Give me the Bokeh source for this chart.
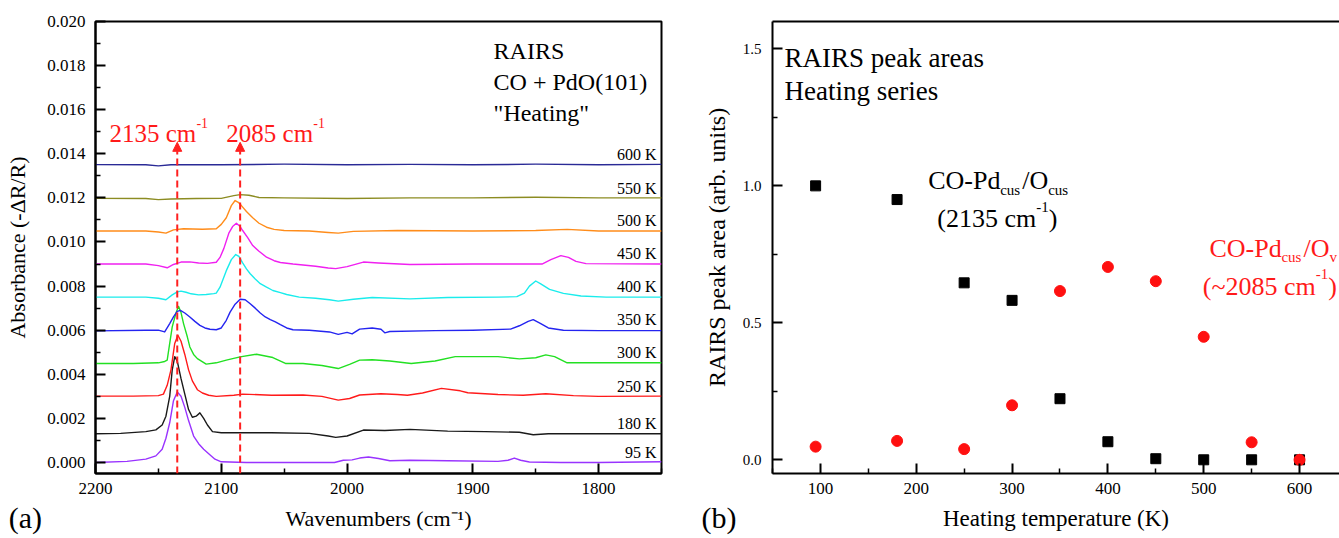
from bokeh.plotting import figure
from bokeh.layouts import row
from bokeh.models import (Range1d, FixedTicker, PrintfTickFormatter, Arrow,
                          NormalHead, LinearAxis)
from bokeh.core.properties import value
from bokeh.embed import file_html
from bokeh.resources import INLINE

FONT = "Liberation Serif"

# ---------------- panel (a): RAIRS spectra ----------------
wn_95 = [2200, 2175, 2160, 2152, 2147, 2144, 2141, 2138, 2135, 2132, 2129, 2126, 2122, 2118, 2114, 2110, 2105, 2100,
         2080, 2040, 2010, 2003, 1996, 1990, 1983, 1975, 1966, 1950, 1920, 1880, 1872, 1867, 1862, 1855, 1830, 1800, 1750]
ab_95 = [0.0, 0.00005, 0.00015, 0.0003, 0.0006, 0.0011, 0.0018, 0.0028, 0.0032, 0.0030, 0.0025, 0.0019, 0.0012,
         0.00085, 0.0006, 0.0004, 0.00015, 0.00003, 0.0, 0.0, 0.0, 0.0001, 0.00012, 0.0002, 0.00025, 0.00018, 0.00008,
         0.0001, 0.00008, 0.00005, 0.0001, 0.0002, 0.0001, 0.00002, 0.0, 0.0, 0.00003]

wn_180 = [2200, 2180, 2160, 2152, 2147, 2144, 2141, 2139, 2137, 2135, 2132, 2129, 2126, 2123, 2120, 2117, 2114, 2111,
          2107, 2100, 2060, 2030, 2015, 2009, 2000, 1987, 1970, 1950, 1920, 1890, 1863, 1852, 1840, 1800, 1750]
ab_180 = [0.0013, 0.00132, 0.0014, 0.00148, 0.0017, 0.0021, 0.0030, 0.0042, 0.0048, 0.0046, 0.0038, 0.0031, 0.0024,
          0.00205, 0.0021, 0.00225, 0.0020, 0.0017, 0.0014, 0.00135, 0.00135, 0.00132, 0.0012, 0.00114, 0.0012,
          0.00147, 0.00145, 0.0015, 0.00142, 0.0014, 0.00137, 0.00126, 0.0013, 0.0013, 0.0013]

wn_250 = [2200, 2170, 2150, 2146, 2143, 2140, 2137, 2134.5, 2132, 2129, 2126, 2123, 2119, 2115, 2110, 2104, 2090, 2083,
          2060, 2035, 2020, 2007, 1998, 1990, 1973, 1960, 1952, 1940, 1925, 1910, 1904, 1880, 1860, 1842, 1820, 1800, 1750]
ab_250 = [0.00301, 0.00301, 0.00303, 0.0031, 0.0035, 0.0042, 0.0054, 0.00577, 0.0055, 0.0049, 0.0042, 0.0037, 0.0033,
          0.00315, 0.00305, 0.003, 0.00305, 0.0031, 0.00305, 0.00306, 0.003, 0.00283, 0.0029, 0.00306, 0.00312,
          0.00308, 0.00305, 0.00315, 0.00336, 0.00325, 0.00316, 0.00308, 0.00305, 0.00312, 0.00303, 0.003, 0.00301]

wn_300 = [2200, 2170, 2150, 2145, 2143, 2141, 2139, 2136, 2134, 2132, 2130, 2127, 2125, 2122, 2119, 2112, 2104, 2096,
          2085, 2072, 2059, 2049, 2035, 2020, 2007, 1998, 1990, 1980, 1966, 1949, 1930, 1914, 1880, 1863, 1850, 1842,
          1835, 1825, 1800, 1750]
ab_300 = [0.00449, 0.00449, 0.00452, 0.00458, 0.00464, 0.0054, 0.00615, 0.00678, 0.00708, 0.0068, 0.0063, 0.0057,
          0.00524, 0.0049, 0.00471, 0.00446, 0.00452, 0.00464, 0.00479, 0.00491, 0.00476, 0.00449, 0.00449, 0.0044,
          0.00426, 0.00445, 0.00464, 0.00466, 0.0046, 0.00449, 0.0046, 0.0048, 0.0048, 0.0047, 0.00475, 0.00488,
          0.0048, 0.00452, 0.00452, 0.00452]

wn_350 = [2200, 2160, 2150, 2145, 2141, 2138, 2135, 2132.5, 2129, 2125, 2121, 2117, 2113, 2109, 2104, 2100, 2096, 2093,
          2089, 2085, 2081, 2077, 2073, 2069, 2065, 2061, 2057, 2053, 2048, 2043, 2030, 2014, 2007, 2000, 1996, 1990,
          1980, 1973, 1970, 1966, 1930, 1900, 1870, 1863, 1856, 1852, 1846, 1840, 1828, 1800, 1750]
ab_350 = [0.00597, 0.006, 0.006, 0.00592, 0.0063, 0.0066, 0.00685, 0.0069, 0.00678, 0.0066, 0.0064, 0.00622, 0.0061,
          0.00604, 0.00602, 0.0061, 0.00645, 0.00682, 0.00718, 0.0074, 0.00738, 0.0072, 0.007, 0.00678, 0.0066,
          0.00648, 0.00638, 0.00625, 0.0061, 0.00602, 0.006, 0.00592, 0.00581, 0.0059, 0.00583, 0.00605, 0.0061,
          0.00604, 0.00588, 0.00594, 0.00598, 0.006, 0.00605, 0.0062, 0.0064, 0.00648, 0.0063, 0.0061, 0.006,
          0.00598, 0.00598]

wn_400 = [2200, 2160, 2150, 2144, 2139, 2135, 2132, 2128, 2124, 2118, 2112, 2106, 2104, 2101, 2096, 2092, 2088.5, 2086,
          2083, 2080, 2077, 2073, 2069, 2064, 2059, 2053, 2048, 2038, 2025, 2014, 2007, 1995, 1980, 1950, 1920, 1880,
          1865, 1859, 1855, 1850, 1846, 1839, 1828, 1814, 1794, 1750]
ab_400 = [0.0075, 0.0075, 0.00745, 0.00738, 0.0076, 0.00774, 0.00777, 0.00772, 0.00765, 0.0076, 0.00762, 0.00766,
          0.00768, 0.00795, 0.0087, 0.0092, 0.00943, 0.00935, 0.00905, 0.00878, 0.00856, 0.00832, 0.00811, 0.00795,
          0.0078, 0.0077, 0.00762, 0.0075, 0.00745, 0.00738, 0.00732, 0.0074, 0.00748, 0.00742, 0.00748, 0.0075,
          0.00752, 0.00768, 0.008, 0.00823, 0.0081, 0.00785, 0.00767, 0.00755, 0.0075, 0.0075]

wn_450 = [2200, 2160, 2150, 2143, 2138, 2132, 2125, 2118, 2111, 2104, 2101, 2098, 2094, 2091, 2088, 2085, 2083, 2079,
          2075, 2070, 2064, 2058, 2053, 2043, 2025, 2015, 2009, 2000, 1987, 1975, 1950, 1900, 1860, 1845, 1838, 1830,
          1824, 1818, 1810, 1750]
ab_450 = [0.009, 0.009, 0.00893, 0.00883, 0.00898, 0.00909, 0.0091, 0.00905, 0.00903, 0.00908, 0.0093, 0.0097, 0.0104,
          0.0107, 0.01085, 0.0107, 0.01052, 0.0102, 0.00984, 0.00958, 0.00931, 0.00915, 0.00907, 0.009, 0.0089,
          0.00882, 0.00879, 0.00888, 0.00909, 0.00905, 0.00898, 0.009, 0.009, 0.009, 0.0092, 0.00938, 0.0093,
          0.00912, 0.00902, 0.009]

wn_500 = [2200, 2160, 2150, 2144, 2138, 2130, 2115, 2104, 2100, 2096, 2092, 2089, 2086.5, 2084, 2080, 2075, 2070, 2064,
          2058, 2050, 2030, 2015, 2007, 1995, 1960, 1900, 1850, 1825, 1800, 1750]
ab_500 = [0.0105, 0.0105, 0.01045, 0.0104, 0.01055, 0.0106, 0.01058, 0.0106, 0.0108, 0.0111, 0.01165, 0.01188, 0.0118,
          0.01165, 0.01138, 0.0111, 0.01085, 0.01067, 0.01057, 0.01052, 0.0105, 0.01043, 0.0104, 0.01048, 0.01052,
          0.0105, 0.01052, 0.01057, 0.0105, 0.0105]

wn_550 = [2200, 2160, 2150, 2140, 2120, 2100, 2090, 2085, 2078, 2070, 2050, 2000, 1950, 1900, 1850, 1800, 1750]
ab_550 = [0.01198, 0.01197, 0.01192, 0.01195, 0.01197, 0.01198, 0.0121, 0.01215, 0.01212, 0.01202, 0.012, 0.01197,
          0.012, 0.012, 0.01203, 0.012, 0.012]

wn_600 = [2200, 2160, 2150, 2140, 2100, 2050, 2000, 1950, 1900, 1850, 1800, 1750]
ab_600 = [0.01351, 0.0135, 0.01345, 0.0135, 0.0135, 0.01353, 0.0135, 0.01352, 0.0135, 0.01353, 0.0135, 0.01352]

spec_labels = ["95 K", "180 K", "250 K", "300 K", "350 K", "400 K", "450 K", "500 K", "550 K", "600 K"]
spec_label_y = [0.00043, 0.00179, 0.00346, 0.0050, 0.00649, 0.00799, 0.00948, 0.01097, 0.01242, 0.01396]
spec_colors = ["#9933FF", "#1A1A1A", "#FF1A1A", "#22E022", "#2424F0", "#1AECEC", "#F020F0", "#FF8C1A", "#8C8C22", "#2A2A96"]

peak_positions = [2135, 2085]
peak_numbers = ["2135", "2085"]

a_yticks = [0.000, 0.002, 0.004, 0.006, 0.008, 0.010, 0.012, 0.014, 0.016, 0.018, 0.020]
a_yminor = [0.001, 0.003, 0.005, 0.007, 0.009, 0.011, 0.013, 0.015, 0.017, 0.019]
a_xticks = [2200, 2100, 2000, 1900, 1800]
a_xminor = [2150, 2050, 1950, 1850, 1750]

# ---------------- panel (b): peak areas ----------------
temps = [95, 180, 250, 300, 350, 400, 450, 500, 550, 600]
area_2135 = [1.0, 0.95, 0.646, 0.582, 0.223, 0.066, 0.004, 0.0, 0.0, 0.0]
area_2085 = [0.048, 0.069, 0.039, 0.199, 0.616, 0.704, 0.652, 0.449, 0.064, 0.0]

b_yticks = [0.0, 0.5, 1.0, 1.5]
b_yminor = [0.25, 0.75, 1.25]
b_xticks = [100, 200, 300, 400, 500, 600]
b_xminor = [50, 150, 250, 350, 450, 550]

RED = "#FF1A1A"


def style_axis(ax, tick_size, label_size, standoff, label_standoff):
    ax.axis_line_width = 2
    ax.axis_line_color = "black"
    ax.major_tick_in = 10
    ax.major_tick_out = 0
    ax.minor_tick_in = 5
    ax.minor_tick_out = 0
    ax.major_tick_line_width = 2
    ax.minor_tick_line_width = 1.5
    ax.major_tick_line_color = "black"
    ax.minor_tick_line_color = "black"
    ax.major_label_text_font = FONT
    ax.major_label_text_font_size = tick_size
    ax.major_label_text_color = "black"
    ax.major_label_standoff = standoff
    ax.axis_label_text_font = FONT
    ax.axis_label_text_font_style = "normal"
    ax.axis_label_text_font_size = label_size
    ax.axis_label_text_color = "black"
    ax.axis_label_standoff = label_standoff


def add_text(p, x, y, t, size, color="black", align="left", baseline="alphabetic", xo=0, yo=0, level="glyph"):
    p.text(x=[x], y=[y], text=[t], x_offset=xo, y_offset=yo, text_font=value(FONT),
           text_font_size=size, text_color=color, text_align=align, text_baseline=baseline, level=level)


# ---------- figure (a) ----------
p1 = figure(width=700, height=538, x_range=Range1d(2200, 1750), y_range=Range1d(-0.0005, 0.020),
            output_backend="svg", toolbar_location=None,
            min_border_left=95, min_border_right=39, min_border_top=21, min_border_bottom=65)
p1.grid.visible = False
p1.outline_line_color = "black"
p1.outline_line_width = 2
p1.outline_line_alpha = 1.0
p1.background_fill_color = "white"
p1.border_fill_color = "white"

p1.yaxis.ticker = FixedTicker(ticks=a_yticks, minor_ticks=a_yminor)
p1.yaxis.formatter = PrintfTickFormatter(format="%.3f")
p1.xaxis.ticker = FixedTicker(ticks=a_xticks, minor_ticks=a_xminor)
p1.xaxis.axis_label = "Wavenumbers (cm\u207b\u00b9)"
p1.yaxis.axis_label = "Absorbance (-\u0394R/R)"
style_axis(p1.yaxis[0], "17px", "22px", 10, 14)
style_axis(p1.xaxis[0], "17px", "22px", 9, 9)

spectra = [(wn_95, ab_95), (wn_180, ab_180), (wn_250, ab_250), (wn_300, ab_300), (wn_350, ab_350),
           (wn_400, ab_400), (wn_450, ab_450), (wn_500, ab_500), (wn_550, ab_550), (wn_600, ab_600)]
for (wx, ay), col in zip(spectra, spec_colors):
    p1.line(wx, ay, line_color=col, line_width=1.4, line_join="round")

for lab, ly in zip(spec_labels, spec_label_y):
    add_text(p1, 1754, ly, lab, "16px", align="right", baseline="middle")

for pos in peak_positions:
    p1.add_layout(Arrow(end=NormalHead(size=9, fill_color="#FF2020", line_color="#FF2020", line_width=1),
                        x_start=pos, y_start=-0.0005, x_end=pos, y_end=0.01452,
                        line_color="#FF2020", line_width=2, line_dash="7 4"))

# red peak labels: "2135 cm" + superscript "-1"
for xl, num in zip([2188.9, 2096.0], peak_numbers):
    add_text(p1, xl, 0.0149, num + " cm", "25px", color=RED)
    add_text(p1, xl, 0.0149, "-1", "14px", color=RED, xo=87, yo=-11)

add_text(p1, 1883.5, 0.01868, "RAIRS", "24px")
add_text(p1, 1883.5, 0.01726, "CO + PdO(101)", "24px")
add_text(p1, 1883.5, 0.01587, "\"Heating\"", "24px")

# panel tag "(a)" below the axis (overlay level so it is not clipped to the frame)
add_text(p1, 2269, -0.00251, "(a)", "30px", baseline="middle", level="overlay")

# ---------- figure (b) ----------
p2 = figure(width=639, height=538, x_range=Range1d(50, 641.7), y_range=Range1d(-0.05, 1.6),
            output_backend="svg", toolbar_location=None,
            min_border_left=71, min_border_right=0, min_border_top=17, min_border_bottom=65)
p2.grid.visible = False
p2.outline_line_color = None
p2.background_fill_color = "white"
p2.border_fill_color = "white"

p2.yaxis.ticker = FixedTicker(ticks=b_yticks, minor_ticks=b_yminor)
p2.yaxis.formatter = PrintfTickFormatter(format="%.1f")
p2.xaxis.ticker = FixedTicker(ticks=b_xticks, minor_ticks=b_xminor)
p2.xaxis.axis_label = "Heating temperature (K)"
p2.yaxis.axis_label = "RAIRS peak area (arb. units)"
style_axis(p2.yaxis[0], "15px", "24px", 11, 10)
style_axis(p2.xaxis[0], "17px", "23px", 9, 9)

top_axis = LinearAxis(ticker=FixedTicker(ticks=[]), axis_line_width=2, axis_line_color="black",
                      major_tick_in=0, major_tick_out=0, minor_tick_in=0, minor_tick_out=0,
                      major_label_standoff=0)
p2.add_layout(top_axis, "above")

p2.scatter(temps, area_2135, marker="square", size=10, fill_color="black", line_color="black")
p2.scatter(temps, area_2085, marker="circle", size=11, fill_color="#FF1010", line_color="#FF1010")

add_text(p2, 62.5, 1.467, "RAIRS peak areas", "27px")
add_text(p2, 62.5, 1.348, "Heating series", "27px")

# CO-Pd_cus/O_cus (black)
bx, by = 212.5, 1.019
add_text(p2, bx, by, "CO-Pd", "26px")
add_text(p2, bx, by, "cus", "15px", xo=72, yo=9)
add_text(p2, bx, by, "/O", "26px", xo=94)
add_text(p2, bx, by, "cus", "15px", xo=120, yo=9)
cx, cy = 221.9, 0.880
add_text(p2, cx, cy, "(2135 cm", "26px")
add_text(p2, cx, cy, "-1", "15px", xo=99, yo=-12)
add_text(p2, cx, cy, ")", "26px", xo=111.5)

# CO-Pd_cus/O_v (red)
rx, ry = 506.0, 0.772
add_text(p2, rx, ry, "CO-Pd", "26px", color=RED)
add_text(p2, rx, ry, "cus", "15px", color=RED, xo=72, yo=9)
add_text(p2, rx, ry, "/O", "26px", color=RED, xo=94)
add_text(p2, rx, ry, "v", "15px", color=RED, xo=120, yo=9)
sx, sy = 499.0, 0.633
add_text(p2, sx, sy, "(~2085 cm", "26px", color=RED)
add_text(p2, sx, sy, "-1", "15px", color=RED, xo=113, yo=-12)
add_text(p2, sx, sy, ")", "26px", color=RED, xo=125.5)

# panel tag "(b)"
add_text(p2, -24.0, -0.21, "(b)", "30px", baseline="middle", level="overlay")

layout = row(p1, p2)
open("out.html", "w").write(file_html(layout, INLINE))
